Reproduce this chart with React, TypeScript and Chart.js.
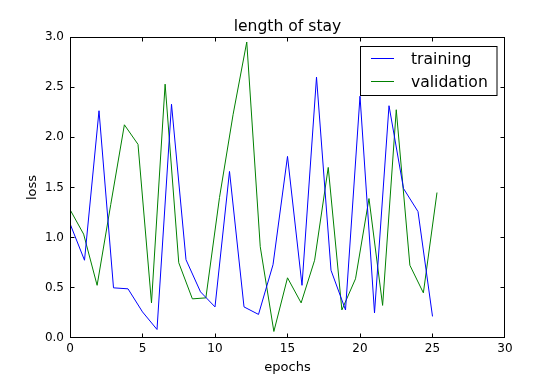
import React, { useEffect, useRef } from "react";
import { Chart, registerables } from "chart.js";

Chart.register(...registerables);

const trainEpochs = [0, 1, 2, 3, 4, 5, 6, 7, 8, 9, 10, 11, 12, 13, 14, 15, 16, 17, 18, 19, 20, 21, 22, 23, 24, 25];
const trainLoss = [1.14, 0.775, 2.265, 0.5, 0.49, 0.26, 0.085, 2.33, 0.78, 0.46, 0.31, 1.66, 0.31, 0.235, 0.73, 1.81, 0.525, 2.6, 0.675, 0.28, 2.41, 0.25, 2.315, 1.49, 1.26, 0.215];
const valEpochs = [0, 0.94, 1.87, 2.81, 3.75, 4.69, 5.62, 6.56, 7.5, 8.44, 9.37, 10.31, 11.25, 12.19, 13.12, 14.06, 15, 15.94, 16.87, 17.81, 18.75, 19.69, 20.62, 21.56, 22.5, 23.44, 24.37, 25.31];
const valLoss = [1.28, 1.035, 0.525, 1.33, 2.125, 1.93, 0.35, 2.53, 0.75, 0.39, 0.4, 1.4, 2.23, 2.95, 0.91, 0.065, 0.6, 0.35, 0.775, 1.7, 0.28, 0.59, 1.39, 0.325, 2.275, 0.725, 0.45, 1.45];

const chartTitle = "length of stay";
const xLabel = "epochs";
const yLabel = "loss";
const seriesNames = ["training", "validation"];
const seriesColors = ["#0000ff", "#008000"];

const FONT = "'DejaVu Sans', sans-serif";

const framePlugin = {
  id: "frameTicks",
  afterDatasetsDraw(chart: any) {
    const { ctx, chartArea } = chart;
    const { left, right, top, bottom } = chartArea;
    const xs = chart.scales.x;
    const ys = chart.scales.y;
    ctx.save();
    ctx.strokeStyle = "#000";
    ctx.lineWidth = 1;
    const L = Math.round(left) + 0.5;
    const R = Math.round(right) - 0.5;
    const T = Math.round(top) + 0.5;
    const B = Math.round(bottom) - 0.5;
    ctx.strokeRect(L, T, R - L, B - T);
    ctx.beginPath();
    const tl = 4;
    const clamp = (v: number, a: number, b: number) => Math.min(Math.max(v, a), b);
    xs.ticks.forEach((t: any) => {
      const px = clamp(Math.floor(xs.getPixelForValue(t.value)) + 0.5, L, R);
      ctx.moveTo(px, B);
      ctx.lineTo(px, B - tl);
      ctx.moveTo(px, T);
      ctx.lineTo(px, T + tl);
    });
    ys.ticks.forEach((t: any) => {
      const py = clamp(Math.floor(ys.getPixelForValue(t.value)) + 0.5, T, B);
      ctx.moveTo(L, py);
      ctx.lineTo(L + tl, py);
      ctx.moveTo(R, py);
      ctx.lineTo(R - tl, py);
    });
    ctx.stroke();
    ctx.restore();
  },
  afterDraw(chart: any) {
    const { ctx, chartArea } = chart;
    ctx.save();
    // title
    ctx.fillStyle = "#000";
    ctx.font = `15.6px ${FONT}`;
    ctx.textAlign = "center";
    ctx.textBaseline = "alphabetic";
    ctx.fillText(chartTitle, (chartArea.left + chartArea.right) / 2, 31);
    // legend
    const bx = 360.5, by = 46.5, bw = 136.5, bh = 49;
    ctx.fillStyle = "#fff";
    ctx.fillRect(bx, by, bw, bh);
    ctx.strokeStyle = "#000";
    ctx.lineWidth = 1;
    ctx.strokeRect(bx, by, bw, bh);
    const rows = [58.5, 81.5];
    const baselines = [64, 87];
    seriesNames.forEach((name, i) => {
      ctx.strokeStyle = seriesColors[i];
      ctx.beginPath();
      ctx.moveTo(371, rows[i]);
      ctx.lineTo(394, rows[i]);
      ctx.stroke();
      ctx.fillStyle = "#000";
      ctx.textAlign = "left";
      ctx.textBaseline = "alphabetic";
      ctx.font = `15.6px ${FONT}`;
      ctx.fillText(name, 411, baselines[i]);
    });
    ctx.restore();
  },
};

export default function App() {
  const ref = useRef<HTMLCanvasElement>(null);
  useEffect(() => {
    document.body.style.margin = "0";
    const canvas = ref.current;
    if (!canvas) return;
    const chart = new Chart(canvas, {
      type: "line",
      data: {
        datasets: [
          {
            label: seriesNames[0],
            data: trainEpochs.map((x, i) => ({ x, y: trainLoss[i] })),
            borderColor: seriesColors[0],
            borderWidth: 1,
            pointRadius: 0,
            fill: false,
            tension: 0,
          },
          {
            label: seriesNames[1],
            data: valEpochs.map((x, i) => ({ x, y: valLoss[i] })),
            borderColor: seriesColors[1],
            borderWidth: 1,
            pointRadius: 0,
            fill: false,
            tension: 0,
          },
        ],
      },
      options: {
        responsive: false,
        animation: false,
        devicePixelRatio: 1,
        layout: { padding: { top: 37, right: 55, left: 0, bottom: 0 } },
        plugins: { legend: { display: false }, title: { display: false }, tooltip: { enabled: false } },
        scales: {
          x: {
            type: "linear",
            min: 0,
            max: 30,
            grid: { display: false, drawTicks: false },
            border: { display: false },
            ticks: { stepSize: 5, color: "#000", font: { family: FONT, size: 12 }, padding: 4, maxRotation: 0 },
            title: {
              display: true,
              text: xLabel,
              color: "#000",
              font: { family: FONT, size: 13, lineHeight: 1.2 },
              padding: { top: 0, bottom: 1 },
            },
            afterFit(scale: any) {
              scale.height = 38;
            },
          },
          y: {
            type: "linear",
            min: 0,
            max: 3,
            grid: { display: false, drawTicks: false },
            border: { display: false },
            ticks: {
              stepSize: 0.5,
              color: "#000",
              font: { family: FONT, size: 12 },
              padding: 6,
              callback: (v: any) => Number(v).toFixed(1),
            },
            title: {
              display: true,
              text: yLabel,
              color: "#000",
              font: { family: FONT, size: 13, lineHeight: 1.2 },
              padding: { top: 24.5, bottom: 0 },
            },
            afterFit(scale: any) {
              scale.width = 70;
            },
          },
        },
      },
      plugins: [framePlugin],
    });
    return () => chart.destroy();
  }, []);
  return (
    <div style={{ width: 560, height: 376 }}>
      <canvas ref={ref} width={560} height={376} style={{ width: 560, height: 376 }} />
    </div>
  );
}
